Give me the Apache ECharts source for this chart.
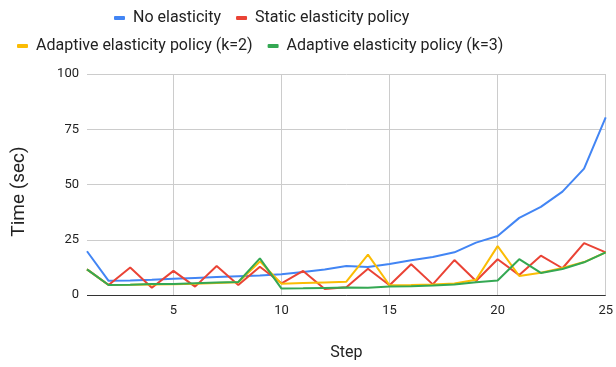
<!DOCTYPE html>
<html>
<head>
<meta charset="utf-8">
<script src="https://cdn.jsdelivr.net/npm/echarts@6/dist/echarts.min.js"></script>
<style>
  html, body { margin: 0; padding: 0; background: #fff; }
  #chart { width: 616px; height: 367px; }
</style>
</head>
<body>
<div id="chart"></div>
<script>
// Step numbers on the x axis
const steps = [1, 2, 3, 4, 5, 6, 7, 8, 9, 10, 11, 12, 13, 14, 15, 16, 17, 18, 19, 20, 21, 22, 23, 24, 25];

// Time (sec) per step for each policy
const noElasticity = [19.8, 6.4, 6.6, 6.9, 7.3, 7.7, 8.1, 8.5, 8.8, 9.4, 10.4, 11.5, 13.1, 12.7, 14.0, 15.7, 17.2, 19.3, 23.7, 26.7, 34.9, 39.9, 46.8, 57.2, 80.4];
const staticPolicy = [11.6, 4.5, 12.4, 3.3, 10.9, 3.8, 13.1, 4.5, 12.8, 5.3, 10.9, 2.7, 3.5, 11.9, 4.4, 13.9, 4.8, 15.8, 6.3, 16.2, 9.0, 17.8, 12.1, 23.5, 19.3];
const adaptiveK2 = [11.6, 4.5, 4.6, 4.8, 4.9, 5.1, 5.4, 5.8, 15.2, 5.1, 5.4, 5.7, 6.0, 18.3, 4.4, 4.5, 4.7, 5.2, 6.9, 22.1, 8.6, 10.1, 12.2, 14.9, 19.3];
const adaptiveK3 = [11.6, 4.5, 4.6, 5.0, 5.0, 5.3, 5.6, 5.9, 16.6, 2.9, 3.0, 3.2, 3.4, 3.3, 3.8, 4.0, 4.3, 4.8, 5.8, 6.6, 16.2, 10.0, 11.8, 14.8, 19.3];

// Axis tick labels
const xTicks = [5, 10, 15, 20, 25];
const yTicks = [0, 25, 50, 75, 100];

const seriesNames = ['No elasticity', 'Static elasticity policy', 'Adaptive elasticity policy (k=2)', 'Adaptive elasticity policy (k=3)'];
const seriesColors = ['#4285F4', '#EA4335', '#FBBC04', '#34A853'];
const seriesValues = [noElasticity, staticPolicy, adaptiveK2, adaptiveK3];

const font = 'Roboto, "Liberation Sans", Arial, sans-serif';

const chart = echarts.init(document.getElementById('chart'), null, { renderer: 'canvas' });

const legendCommon = {
  icon: 'roundRect',
  itemWidth: 11,
  itemHeight: 4,
  itemGap: 15,
  textStyle: { fontFamily: font, fontSize: 16, color: '#222', padding: [0, 0, 0, 3] },
  selectedMode: false
};

chart.setOption({
  backgroundColor: '#fff',
  animation: false,
  color: seriesColors,
  legend: [
    Object.assign({}, legendCommon, { left: 109, top: 5, data: seriesNames.slice(0, 2) }),
    Object.assign({}, legendCommon, { left: 12, top: 33, data: seriesNames.slice(2) })
  ],
  grid: { left: 87, right: 7, top: 74, bottom: 72, containLabel: false },
  xAxis: {
    type: 'value',
    min: steps[0],
    max: steps[steps.length - 1],
    name: 'Step',
    nameLocation: 'middle',
    nameGap: 50,
    nameTextStyle: { fontFamily: font, fontSize: 16, color: '#222' },
    axisLine: { show: false },
    axisTick: { show: false, customValues: xTicks },
    axisLabel: { customValues: xTicks, fontFamily: font, fontSize: 13, color: '#222', margin: 9 },
    splitLine: { show: true, lineStyle: { color: '#ccc', width: 1 } }
  },
  yAxis: {
    type: 'value',
    min: yTicks[0],
    max: yTicks[yTicks.length - 1],
    interval: 25,
    name: 'Time (sec)',
    nameLocation: 'middle',
    nameGap: 58,
    nameTextStyle: { fontFamily: font, fontSize: 19, color: '#222', padding: [0, 14, 0, 0] },
    axisLine: { show: false },
    axisTick: { show: false },
    axisLabel: { fontFamily: font, fontSize: 13, color: '#222', margin: 8 },
    splitLine: { show: true, lineStyle: { color: '#ccc', width: 1 } }
  },
  series: seriesNames.map((name, i) => ({
    name: name,
    type: 'line',
    data: steps.map((s, j) => [s, seriesValues[i][j]]),
    showSymbol: false,
    symbol: 'none',
    lineStyle: { width: 2, color: seriesColors[i] },
    itemStyle: { color: seriesColors[i] },
    z: 2 + i,
    markLine: i === 0 ? {
      silent: true,
      symbol: 'none',
      label: { show: false },
      lineStyle: { color: '#333', width: 1, type: 'solid' },
      data: [{ yAxis: 0 }],
      z: 1
    } : undefined
  }))
});
</script>
</body>
</html>
